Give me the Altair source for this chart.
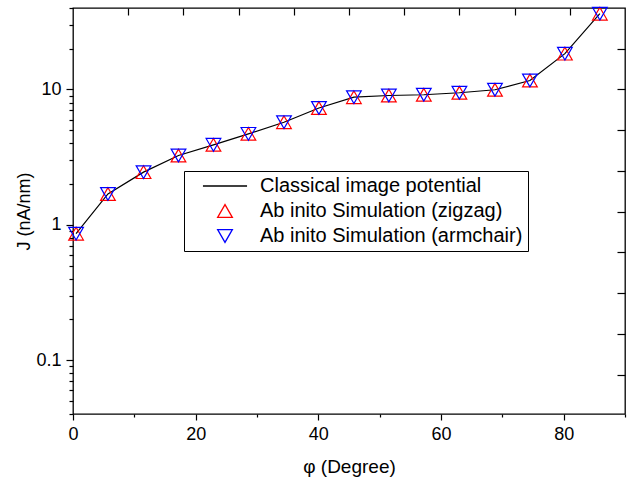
import altair as alt
import pandas as pd

# ---- data ----
phi = [0.5, 5.7, 11.5, 17.2, 22.9, 28.6, 34.4, 40.1, 45.8, 51.5, 57.2, 63.0, 68.8, 74.5, 80.2, 85.9]
J_classical = [0.86, 1.69, 2.45, 3.25, 3.90, 4.70, 5.73, 7.30, 8.77, 9.03, 9.14, 9.46, 9.95, 11.65, 18.4, 36.3]
J_zigzag = [0.86, 1.69, 2.45, 3.25, 3.90, 4.70, 5.73, 7.30, 8.77, 9.03, 9.14, 9.46, 9.95, 11.65, 18.4, 36.3]
J_armchair = [0.86, 1.69, 2.45, 3.25, 3.90, 4.70, 5.73, 7.30, 8.77, 9.03, 9.14, 9.46, 9.95, 11.65, 18.4, 36.3]

series_names = ["Classical image potential", "Ab inito Simulation (zigzag)", "Ab inito Simulation (armchair)"]
series_colors = ["black", "#ff0000", "#0000ff"]
series_shapes = ["M-3,0H3", "triangle-up", "triangle-down"]

x_major = [0, 20, 40, 60, 80]
x_minor = [10, 30, 50, 70, 90]
x_top_ticks = [9, 18, 27, 36, 45, 54, 63, 72, 81]
y_major = [0.1, 1, 10]
y_minor = [0.04, 0.05, 0.06, 0.07, 0.08, 0.09, 0.2, 0.3, 0.4, 0.5, 0.6, 0.7, 0.8, 0.9,
           2, 3, 4, 5, 6, 7, 8, 9, 20, 30, 40]
y_right_ticks = [20, 10, 5, 2.5, 1.25, 0.625, 0.3125, 0.15625, 0.078125]

FONT = "Liberation Sans"

line_df = pd.DataFrame({"phi": phi, "J": J_classical})
pts_df = pd.concat([
    pd.DataFrame({"phi": phi, "J": J_zigzag, "series": series_names[1]}),
    pd.DataFrame({"phi": phi, "J": J_armchair, "series": series_names[2]}),
], ignore_index=True)

xscale = alt.Scale(domain=[0, 90], nice=False, zero=False)
yscale = alt.Scale(type="log", domain=[0.04, 40], nice=False)

tick_style = dict(tickColor="black", tickWidth=1.2, domain=False, grid=False)

# layer 1: classical line, with the labelled bottom/left axes
line = alt.Chart(line_df).mark_line(color="black", strokeWidth=1.2).encode(
    x=alt.X("phi:Q", scale=xscale, axis=alt.Axis(
        title="φ (Degree)", values=x_major, orient="bottom", tickSize=6,
        labelPadding=5, labelFontSize=18, labelFont=FONT, labelColor="black",
        titleFontSize=19, titleFont=FONT, titleFontWeight="normal", titleColor="black",
        titlePadding=14, labelFlush=False, labelOverlap=False, **tick_style)),
    y=alt.Y("J:Q", scale=yscale, axis=alt.Axis(
        title="J (nA/nm)", values=y_major, orient="left", format="~g", tickSize=7,
        labelPadding=5, labelFontSize=18, labelFont=FONT, labelColor="black",
        titleFontSize=18, titleFont=FONT, titleFontWeight="normal", titleColor="black",
        titleX=-49, titleY=203, titleAngle=270, titleAlign="center", titleBaseline="middle",
        labelFlush=False, labelOverlap=False, **tick_style)),
)

# layer 3: same line again (invisible) carrying the minor-tick axes
minor = alt.Chart(line_df).mark_line(strokeOpacity=0).encode(
    x=alt.X("phi:Q", scale=xscale, axis=alt.Axis(
        title=None, values=x_minor, orient="bottom", tickSize=3, labels=False, **tick_style)),
    y=alt.Y("J:Q", scale=yscale, axis=alt.Axis(
        title=None, values=y_minor, orient="left", tickSize=4, labels=False, **tick_style)),
)

legend = alt.Legend(
    title=None, orient="none", legendX=111, legendY=163,
    strokeColor="black", fillColor="white", padding=5, cornerRadius=0,
    labelFontSize=20, labelFont=FONT, labelColor="black", labelLimit=500,
    labelExpr="datum.label + '    '",
    symbolSize=216, symbolStrokeWidth=1.3, symbolOffset=26, labelOffset=25,
    rowPadding=5,
)

# layer 2: simulation points, with the inward top/right ticks
points = alt.Chart(pts_df).mark_point(filled=False, size=216, strokeWidth=1.2, opacity=1).encode(
    x=alt.X("phi:Q", scale=xscale, axis=alt.Axis(
        title=None, values=x_top_ticks, orient="top", labels=False,
        tickSize=7, offset=-7, **tick_style)),
    y=alt.Y("J:Q", scale=yscale, axis=alt.Axis(
        title=None, values=y_right_ticks, orient="right", labels=False,
        tickSize=8, offset=-8, **tick_style)),
    color=alt.Color("series:N", scale=alt.Scale(domain=series_names, range=series_colors), legend=legend),
    shape=alt.Shape("series:N", scale=alt.Scale(domain=series_names, range=series_shapes), legend=legend),
    order=alt.Order("idx:Q"),
).transform_calculate(idx="datum.series == 'Ab inito Simulation (zigzag)' ? 0 : 1")

chart = alt.layer(line, minor, points).resolve_axis(x="independent", y="independent").properties(
    width=552, height=406,
    autosize=alt.AutoSizeParams(type="none"),
    padding={"left": 73, "top": 8, "right": 4, "bottom": 65},
    background="white",
).configure_view(stroke="black", strokeWidth=1.3)

chart.save("out.html", embed_options={"renderer": "svg", "actions": False})
